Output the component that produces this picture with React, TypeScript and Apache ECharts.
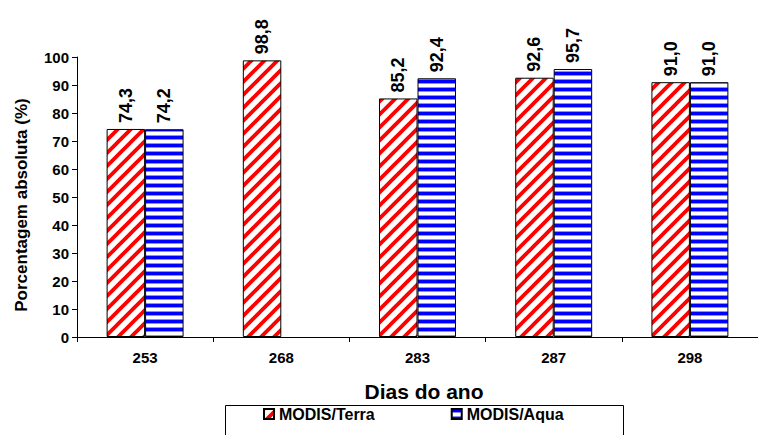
import React, { useEffect, useRef } from "react";
import * as echarts from "echarts";

const categories = ["253", "268", "283", "287", "298"];
const terraValues: (number | null)[] = [74.3, 98.8, 85.2, 92.6, 91.0];
const aquaValues: (number | null)[] = [74.2, null, 92.4, 95.7, 91.0];
const seriesNames = ["MODIS/Terra", "MODIS/Aqua"];
const yTitle = "Porcentagem absoluta (%)";
const xTitle = "Dias do ano";

const FONT = 'Arial, "Liberation Sans", sans-serif';

function makeRedPattern(): HTMLCanvasElement {
  const s = 13;
  const c = document.createElement("canvas");
  c.width = s;
  c.height = s;
  const ctx = c.getContext("2d")!;
  ctx.fillStyle = "#ffffff";
  ctx.fillRect(0, 0, s, s);
  ctx.strokeStyle = "#ff0000";
  ctx.lineWidth = 3.8;
  for (const k of [0, s, 2 * s]) {
    ctx.beginPath();
    ctx.moveTo(k - s - 2, s + 2 - (0));
    ctx.moveTo(-2, k + 2);
    ctx.lineTo(k + 2, -2);
    ctx.stroke();
  }
  return c;
}

function makeBluePattern(): HTMLCanvasElement {
  const c = document.createElement("canvas");
  c.width = 8;
  c.height = 8;
  const ctx = c.getContext("2d")!;
  ctx.fillStyle = "#ffffff";
  ctx.fillRect(0, 0, 8, 8);
  ctx.fillStyle = "#0000ff";
  ctx.fillRect(0, 0, 8, 3);
  ctx.fillStyle = "#8c8cff";
  ctx.fillRect(0, 3, 8, 1);
  ctx.fillRect(0, 7, 8, 1);
  return c;
}

const fmt = (p: any) =>
  p.value == null ? "" : Number(p.value).toFixed(1).replace(".", ",");

export default function App() {
  const ref = useRef<HTMLDivElement>(null);
  useEffect(() => {
    if (!ref.current) return;
    const chart = echarts.init(ref.current, undefined, { renderer: "svg" });
    const red = { image: makeRedPattern(), repeat: "repeat" } as any;
    const blue = { image: makeBluePattern(), repeat: "repeat" } as any;
    const labelCfg = {
      show: true,
      position: "top",
      rotate: 90,
      align: "left",
      verticalAlign: "middle",
      distance: 6,
      formatter: fmt,
      color: "#000",
      fontFamily: FONT,
      fontWeight: "bold",
      fontSize: 18,
    };
    chart.setOption({
      animation: false,
      backgroundColor: "#ffffff",
      textStyle: { fontFamily: FONT },
      grid: { left: 77, top: 57, width: 691, height: 280 },
      legend: {
        data: seriesNames,
        left: 263,
        top: 406,
        padding: 0,
        itemWidth: 10,
        itemHeight: 10,
        itemGap: 76,
        icon: "rect",
        textStyle: {
          fontFamily: FONT,
          fontWeight: "bold",
          fontSize: 16,
          color: "#000",
        },
      },
      xAxis: {
        type: "category",
        data: categories,
        axisLine: { show: true, lineStyle: { color: "#000", width: 1 } },
        axisTick: { show: true, alignWithLabel: false, length: 5, lineStyle: { color: "#000" } },
        axisLabel: {
          margin: 13,
          color: "#000",
          fontFamily: FONT,
          fontWeight: "bold",
          fontSize: 15,
        },
        splitLine: { show: false },
      },
      yAxis: {
        type: "value",
        min: 0,
        max: 100,
        interval: 10,
        axisLine: { show: true, lineStyle: { color: "#000", width: 1 } },
        axisTick: { show: true, length: 5, lineStyle: { color: "#000" } },
        axisLabel: {
          margin: 8,
          color: "#000",
          fontFamily: FONT,
          fontWeight: "bold",
          fontSize: 15,
        },
        splitLine: { show: false },
      },
      graphic: [
        {
          type: "text",
          x: 21,
          y: 205,
          rotation: Math.PI / 2,
          style: {
            text: yTitle,
            fontFamily: FONT,
            fontWeight: "bold",
            fontSize: 17,
            fill: "#000",
            align: "center",
            verticalAlign: "middle",
          },
        },
        {
          type: "text",
          x: 424,
          y: 391,
          style: {
            text: xTitle,
            fontFamily: FONT,
            fontWeight: "bold",
            fontSize: 21,
            fill: "#000",
            align: "center",
            verticalAlign: "middle",
          },
        },
        {
          type: "rect",
          shape: { x: 225.5, y: 405.5, width: 398, height: 40 },
          style: { fill: "none", stroke: "#000", lineWidth: 1 },
          silent: true,
        },
      ],
      series: [
        {
          name: seriesNames[0],
          type: "bar",
          data: terraValues,
          barGap: "0%",
          barCategoryGap: "43.5%",
          itemStyle: { color: red, borderColor: "#000", borderWidth: 1 },
          label: labelCfg,
        },
        {
          name: seriesNames[1],
          type: "bar",
          data: aquaValues,
          barGap: "0%",
          barCategoryGap: "43.5%",
          itemStyle: { color: blue, borderColor: "#000", borderWidth: 1 },
          label: labelCfg,
        },
      ],
    });
    return () => chart.dispose();
  }, []);
  return (
    <div
      ref={ref}
      style={{ position: "fixed", left: 0, top: 0, width: 758, height: 435 }}
    />
  );
}
